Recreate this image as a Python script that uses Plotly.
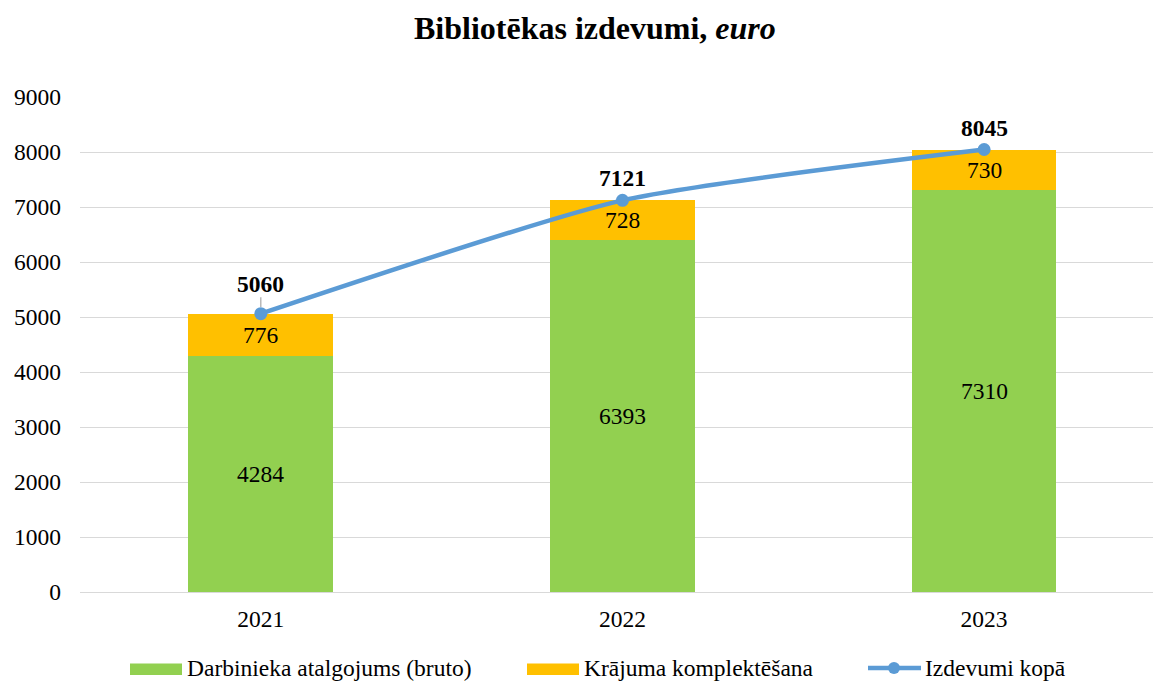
import plotly.graph_objects as go

years = ["2021", "2022", "2023"]
salary = [4284, 6393, 7310]
collection = [776, 728, 730]
total = [5060, 7121, 8045]
series_names = ["Darbinieka atalgojums (bruto)", "Krājuma komplektēšana", "Izdevumi kopā"]
y_ticks = [0, 1000, 2000, 3000, 4000, 5000, 6000, 7000, 8000, 9000]

GREEN = "#92D050"
ORANGE = "#FFC000"
BLUE = "#5B9BD5"
FONT = "'Liberation Serif', 'Times New Roman', 'DejaVu Serif', serif"
FS = 23.5

W, H = 1153, 682
L, R, T, B = 80, 0, 97, 90
pw, ph = W - L - R, H - T - B

def px(x):
    return (x - L) / pw

def py(y):
    return (H - B - y) / ph

xs = list(range(len(years)))

fig = go.Figure()
fig.add_trace(go.Bar(
    x=xs, y=salary, name=series_names[0], marker=dict(color=GREEN, line=dict(width=0)),
    width=0.4, showlegend=False,
))
fig.add_trace(go.Bar(
    x=xs, y=collection, name=series_names[1], marker=dict(color=ORANGE, line=dict(width=0)),
    width=0.4, showlegend=False,
))
fig.add_trace(go.Scatter(
    x=xs, y=total, name=series_names[2], mode="lines+markers",
    line=dict(color=BLUE, width=4.5, shape="spline", smoothing=0.6),
    marker=dict(color=BLUE, size=13), showlegend=False,
))

# bar segment labels
for i in xs:
    fig.add_annotation(x=i, y=salary[i] / 2, text=str(salary[i]), showarrow=False,
                       font=dict(family=FONT, size=FS, color="black"))
    fig.add_annotation(x=i, y=salary[i] + collection[i] / 2, text=str(collection[i]), showarrow=False,
                       font=dict(family=FONT, size=FS, color="black"))

# point labels for total line
shifts = [30, 22, 22]
for i, v in enumerate(total):
    fig.add_annotation(x=i, y=v, text=f"<b>{v}</b>", showarrow=False, yshift=shifts[i],
                       font=dict(family=FONT, size=FS, color="black"))
# leader line for first label
fig.add_shape(type="line", xref="x", yref="y", x0=0, x1=0, y0=total[0] + 120, y1=total[0] + 300,
              line=dict(color="#A6A6A6", width=1.2))

# title
fig.add_annotation(xref="paper", yref="paper", x=px(595), y=py(28), xanchor="center", yanchor="middle",
                   text="<b>Bibliotēkas izdevumi, <i>euro</i></b>", showarrow=False,
                   font=dict(family=FONT, size=32, color="black"))

# custom legend
ly = 667.5
fig.add_shape(type="rect", xref="paper", yref="paper", x0=px(130), x1=px(182), y0=py(675), y1=py(663.5),
              fillcolor=GREEN, line=dict(width=0))
fig.add_annotation(xref="paper", yref="paper", x=px(185), y=py(ly), xanchor="left", yanchor="middle",
                   text=series_names[0], showarrow=False, font=dict(family=FONT, size=FS, color="black"))
fig.add_shape(type="rect", xref="paper", yref="paper", x0=px(527), x1=px(579), y0=py(675), y1=py(663.5),
              fillcolor=ORANGE, line=dict(width=0))
fig.add_annotation(xref="paper", yref="paper", x=px(582), y=py(ly), xanchor="left", yanchor="middle",
                   text=series_names[1], showarrow=False, font=dict(family=FONT, size=FS, color="black"))
fig.add_shape(type="line", xref="paper", yref="paper", x0=px(868), x1=px(921), y0=py(668), y1=py(668),
              line=dict(color=BLUE, width=4.5))
fig.add_shape(type="circle", xref="paper", yref="paper", x0=px(888), x1=px(900), y0=py(674), y1=py(662),
              fillcolor=BLUE, line=dict(width=0))
fig.add_annotation(xref="paper", yref="paper", x=px(923), y=py(ly), xanchor="left", yanchor="middle",
                   text=series_names[2], showarrow=False, font=dict(family=FONT, size=FS, color="black"))

fig.update_layout(
    width=W, height=H, barmode="stack",
    margin=dict(l=L, r=R, t=T, b=B, autoexpand=False),
    plot_bgcolor="white", paper_bgcolor="white",
    font=dict(family=FONT, size=FS, color="black"),
    showlegend=False,
    xaxis=dict(tickmode="array", tickvals=xs, ticktext=years, range=[-0.5, 2.467],
               showgrid=False, zeroline=False, showline=False, ticks="",
               tickfont=dict(family=FONT, size=FS, color="black"), ticklabelstandoff=10),
    yaxis=dict(range=[0, 9000], tickvals=y_ticks, showgrid=True, gridcolor="#D9D9D9", gridwidth=1.3,
               zeroline=True, zerolinecolor="#D9D9D9", zerolinewidth=1.3, showline=False, ticks="",
               tickfont=dict(family=FONT, size=FS, color="black"), ticklabelstandoff=18),
)

fig.write_html("out.html")
